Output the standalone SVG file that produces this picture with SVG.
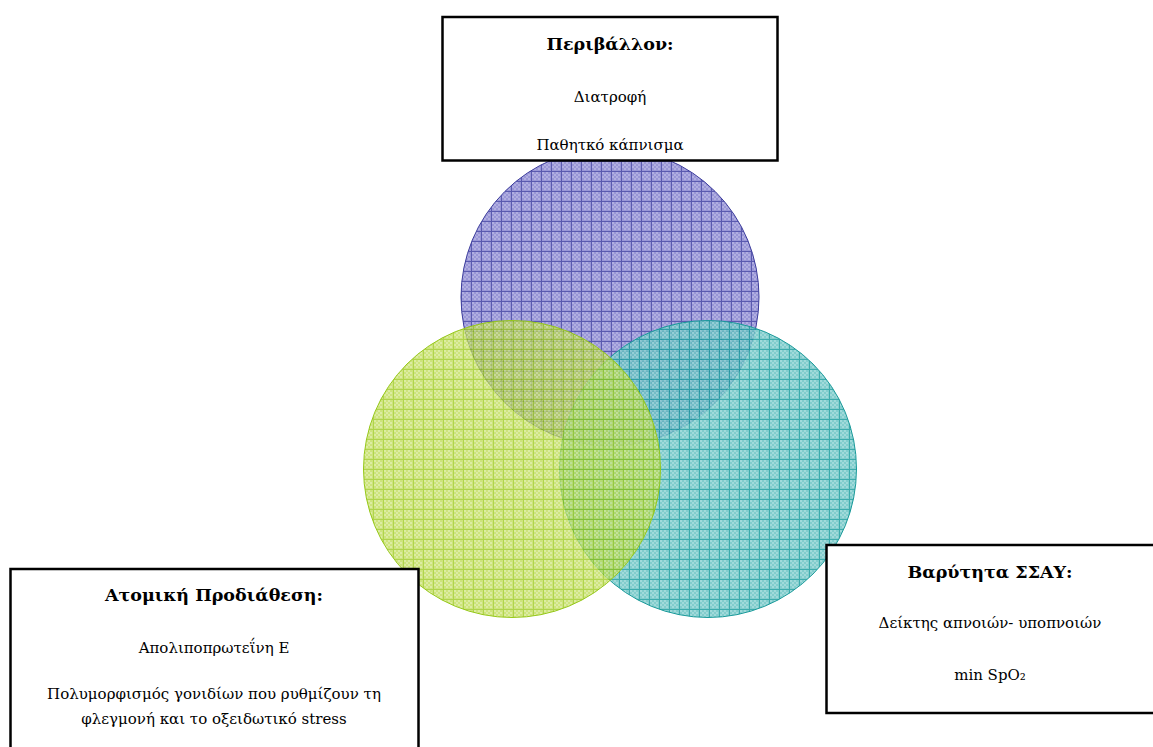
<svg xmlns="http://www.w3.org/2000/svg" width="1153" height="747" viewBox="0 0 1153 747">
<style>
.box{fill:#fff;stroke:#000;stroke-width:2.5}
.t{font-family:"DejaVu Serif","Liberation Serif",serif;text-anchor:middle;fill:#000}
.h{font-size:17.5px;font-weight:bold}
.b{font-size:15px}
</style>
<defs>
<pattern id="pp" width="10" height="10" patternUnits="userSpaceOnUse" x="2" y="2">
<rect width="10" height="10" fill="#908dd2"/>
<path d="M0 0H2V2H0ZM4 0H6V2H4ZM2 2H4V4H2ZM6 2H8V4H6ZM0 4H2V6H0ZM4 4H6V6H4ZM2 6H4V8H2ZM6 6H8V8H6Z" fill="#aaa8de"/>
<path d="M0 9.5H10M9.5 0V10" stroke="#4c4ca8" stroke-width="1"/>
</pattern>
<pattern id="pg" width="10" height="10" patternUnits="userSpaceOnUse" x="4" y="0">
<rect width="10" height="10" fill="#bcdb50"/>
<path d="M0 0H2V2H0ZM4 0H6V2H4ZM2 2H4V4H2ZM6 2H8V4H6ZM0 4H2V6H0ZM4 4H6V6H4ZM2 6H4V8H2ZM6 6H8V8H6Z" fill="#d0e683"/>
<path d="M0 9.5H10M9.5 0V10" stroke="#96c512" stroke-width="1"/>
</pattern>
<pattern id="pt" width="10" height="10" patternUnits="userSpaceOnUse" x="0" y="0">
<rect width="10" height="10" fill="#6cc4c4"/>
<path d="M0 0H2V2H0ZM4 0H6V2H4ZM2 2H4V4H2ZM6 2H8V4H6ZM0 4H2V6H0ZM4 4H6V6H4ZM2 6H4V8H2ZM6 6H8V8H6Z" fill="#90d4d4"/>
<path d="M0 9.5H10M9.5 0V10" stroke="#1c9c9e" stroke-width="1"/>
</pattern>
</defs>
<g id="circles">
<circle id="c-purple" cx="610" cy="297" r="149" fill="url(#pp)" fill-opacity="0.92" stroke="#3c3c9c" stroke-width="1"/>
<circle id="c-teal" cx="708" cy="469" r="148.5" fill="url(#pt)" fill-opacity="0.85" stroke="#1a9a9a" stroke-width="1"/>
<circle id="c-green" cx="512" cy="469" r="148.5" fill="url(#pg)" fill-opacity="0.75" stroke="#96c81a" stroke-width="1"/>
</g>
<g id="connectors"></g>
<g id="n-env">
<rect class="box" x="442.5" y="17" width="335" height="143.5"/>
<text class="t h" x="610" y="50">Περιβάλλον:</text>
<text class="t b" x="610" y="102">Διατροφή</text>
<text class="t b" x="610" y="150">Παθητκό κάπνισμα</text>
</g>
<g id="n-pred">
<rect class="box" x="10.5" y="569" width="408" height="190"/>
<text class="t h" x="214" y="601">Ατομική Προδιάθεση:</text>
<text class="t b" x="214" y="653">Απολιποπρωτεΐνη Ε</text>
<text class="t b" x="214" y="699">Πολυμορφισμός γονιδίων που ρυθμίζουν τη</text>
<text class="t b" x="214" y="724">φλεγμονή και το οξειδωτικό stress</text>
</g>
<g id="n-sev">
<rect class="box" x="826.5" y="545" width="330" height="168"/>
<text class="t h" x="990" y="578">Βαρύτητα ΣΣΑΥ:</text>
<text class="t b" x="990" y="628">Δείκτης απνοιών- υποπνοιών</text>
<text class="t b" x="990" y="680">min SpO₂</text>
</g>
</svg>
